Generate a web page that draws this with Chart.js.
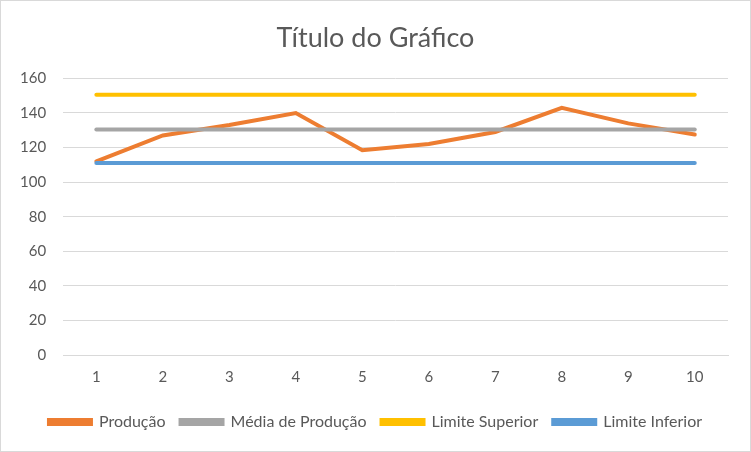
<!DOCTYPE html>
<html>
<head>
<meta charset="utf-8">
<script src="https://cdn.jsdelivr.net/npm/chart.js@4"></script>
<style>
  html, body { margin: 0; padding: 0; background: #fff; }
  #wrap { width: 749px; height: 450px; border: 1px solid #d9d9d9; }
</style>
</head>
<body>
<div id="wrap"><canvas id="chart" width="749" height="450"></canvas></div>
<script>
const labels = ['1', '2', '3', '4', '5', '6', '7', '8', '9', '10'];
const producao = [112, 127, 133, 140, 118.5, 122, 129, 143, 134, 127.5];
const mediaProducao = [130.5, 130.5, 130.5, 130.5, 130.5, 130.5, 130.5, 130.5, 130.5, 130.5];
const limiteSuperior = [150.5, 150.5, 150.5, 150.5, 150.5, 150.5, 150.5, 150.5, 150.5, 150.5];
const limiteInferior = [111, 111, 111, 111, 111, 111, 111, 111, 111, 111];

const fontFamily = 'Lato, "Open Sans", sans-serif';

function line(label, data, color) {
    return {
        label: label,
        data: data,
        borderColor: color,
        backgroundColor: color,
        borderWidth: 4,
        borderCapStyle: 'round',
        pointRadius: 0,
        tension: 0,
        fill: false
    };
}

const ctx = document.getElementById('chart').getContext('2d');
const chart = new Chart(ctx, {
    type: 'line',
    data: {
        labels: labels,
        datasets: [
            line('Limite Inferior', limiteInferior, '#5b9bd5'),
            line('Limite Superior', limiteSuperior, '#ffc000'),
            line('Média de Produção', mediaProducao, '#a5a5a5'),
            line('Produção', producao, '#ed7d31')
        ]
    },
    options: {
        responsive: false,
        animation: false,
        layout: {
            padding: { left: 2, right: 2, top: 13, bottom: 11 }
        },
        scales: {
            x: {
                offset: true,
                grid: { display: false, drawTicks: false },
                border: { color: '#d9d9d9' },
                ticks: { color: '#595959', font: { family: fontFamily, size: 15 }, padding: 13 }
            },
            y: {
                min: 0,
                max: 160,
                grid: { color: '#d9d9d9', drawTicks: false },
                border: { display: false },
                ticks: { stepSize: 20, color: '#595959', font: { family: fontFamily, size: 15 }, padding: 17 }
            },
            // empty right-hand spacer so the plot stops where the reference does
            spacer: {
                position: 'right',
                grid: { display: false, drawTicks: false },
                border: { display: false },
                ticks: { display: false },
                afterFit: function (scale) { scale.width = 20; }
            }
        },
        plugins: {
            title: {
                display: true,
                text: 'Título do Gráfico',
                color: '#595959',
                font: { family: fontFamily, size: 27, weight: 'normal' },
                padding: { top: 8, bottom: 24 }
            },
            legend: {
                position: 'bottom',
                reverse: true,
                labels: {
                    color: '#595959',
                    font: { family: fontFamily, size: 16 },
                    boxWidth: 42,
                    boxHeight: 4,
                    padding: 15
                }
            },
            tooltip: { enabled: false }
        }
    }
});
</script>
</body>
</html>
